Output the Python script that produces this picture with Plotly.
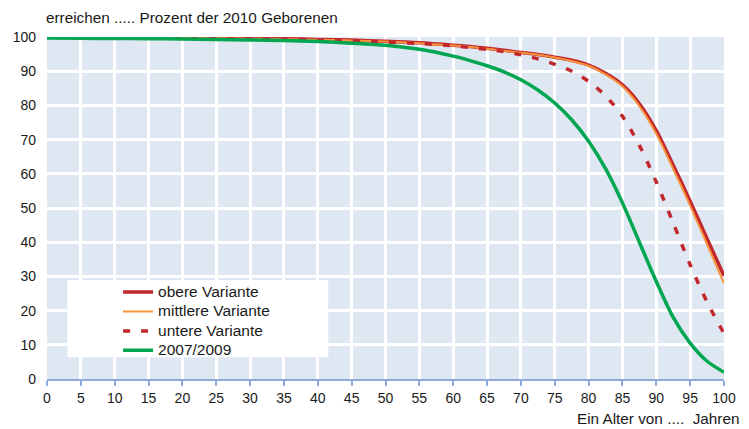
import plotly.graph_objects as go

ages = [0, 5, 10, 15, 20, 25, 30, 35, 40, 45, 50, 55, 60, 62.5, 65, 67.5, 70, 72.5,
        75, 77.5, 80, 82.5, 85, 87.5, 90, 92.5, 95, 97.5, 100]

obere = [100, 99.95, 99.9, 99.85, 99.8, 99.7, 99.6, 99.5, 99.3, 99.1, 98.75, 98.3, 97.6,
         97.2, 96.7, 96.1, 95.5, 94.9, 94.1, 93.2, 91.8, 89.4, 86.0, 80.5, 72.6, 62.5,
         52.0, 41.0, 30.2]
mittlere = [99.95, 99.9, 99.85, 99.8, 99.7, 99.6, 99.5, 99.4, 99.2, 99.0, 98.65, 98.2, 97.5,
            97.1, 96.6, 96.0, 95.4, 94.8, 94.0, 93.0, 91.6, 89.1, 85.6, 79.8, 71.7, 61.4,
            50.7, 39.4, 28.0]
untere = [99.95, 99.9, 99.85, 99.8, 99.7, 99.6, 99.5, 99.35, 99.15, 98.9, 98.55, 98.1, 97.4,
          96.9, 96.4, 95.7, 94.8, 93.6, 92.0, 90.0, 87.0, 82.8, 76.8, 68.3, 57.6, 45.6,
          33.4, 22.5, 13.3]
basis = [99.7, 99.6, 99.55, 99.5, 99.4, 99.3, 99.15, 98.95, 98.65, 98.2, 97.6, 96.4, 94.4,
         93.1, 91.6, 89.8, 87.5, 84.5, 80.7, 75.8, 69.5, 61.5, 51.5, 40.0, 28.5, 18.0,
         10.5, 5.2, 2.0]

series_names = ["obere Variante", "mittlere Variante", "untere Variante", "2007/2009"]

x_ticks = list(range(0, 101, 5))
y_ticks = list(range(0, 101, 10))

FONT = "Arial, Liberation Sans, sans-serif"
TXT = "#1a1a1a"
RED = "#C1272D"
ORANGE = "#F7923A"
GREEN = "#00A650"


def legend_label(s):
    return "<span style='font-size:15.5px'>" + s + "</span>"


fig = go.Figure()
fig.add_trace(go.Scatter(x=ages, y=obere, mode="lines", name=legend_label(series_names[0]),
                         line=dict(color=RED, width=3.5, shape="spline", smoothing=0.8)))
fig.add_trace(go.Scatter(x=ages, y=mittlere, mode="lines", name=legend_label(series_names[1]),
                         line=dict(color=ORANGE, width=2, shape="spline", smoothing=0.8)))
fig.add_trace(go.Scatter(x=ages, y=untere, mode="lines", name=legend_label(series_names[2]),
                         line=dict(color=RED, width=3.5, dash="7px,11px", shape="spline",
                                   smoothing=0.8)))
fig.add_trace(go.Scatter(x=ages, y=basis, mode="lines", name=legend_label(series_names[3]),
                         line=dict(color=GREEN, width=3.5, shape="spline", smoothing=0.8)))

fig.add_shape(type="rect", xref="paper", yref="paper", x0=0.030, x1=0.4155, y0=0.0635, y1=0.2897,
              fillcolor="white", line=dict(width=0), layer="above")

fig.add_annotation(text="erreichen ..... Prozent der 2010 Geborenen", xref="paper", yref="paper",
                   x=0, y=1, xanchor="left", yanchor="middle", yshift=20, xshift=-3,
                   showarrow=False, font=dict(size=15.3, color=TXT, family=FONT))
fig.add_annotation(text="Ein Alter von ....  Jahren", xref="paper", yref="paper",
                   x=1.025, y=0, xanchor="right", yanchor="middle", yshift=-39, showarrow=False,
                   font=dict(size=15.3, color=TXT, family=FONT))

fig.update_layout(
    width=741, height=421,
    margin=dict(l=39, r=25, t=29, b=50, autoexpand=False),
    paper_bgcolor="white",
    plot_bgcolor="#DFE7F3",
    font=dict(family=FONT, size=14, color=TXT),
    showlegend=True,
    legend=dict(x=0.105, y=0.297, xanchor="left", yanchor="top", bgcolor="rgba(0,0,0,0)",
                font=dict(size=12.6, family=FONT, color=TXT), tracegroupgap=0),
    xaxis=dict(range=[0, 100], tickvals=x_ticks, ticktext=[str(v) for v in x_ticks],
               automargin=False,
               showgrid=True, gridcolor="white", gridwidth=3, zeroline=False,
               showline=True, linecolor="#8FAADC", linewidth=1.5,
               ticks="outside", ticklen=5, tickcolor="#8FAADC", tickwidth=1.5,
               tickfont=dict(size=14, family=FONT, color=TXT), fixedrange=True),
    yaxis=dict(range=[0, 100], tickvals=y_ticks, ticktext=[str(v) for v in y_ticks],
               automargin=False,
               showgrid=True, gridcolor="white", gridwidth=3, zeroline=False,
               showline=False, ticks="", ticklabelstandoff=10,
               tickfont=dict(size=14, family=FONT, color=TXT), fixedrange=True),
)

fig.write_html("out.html")
